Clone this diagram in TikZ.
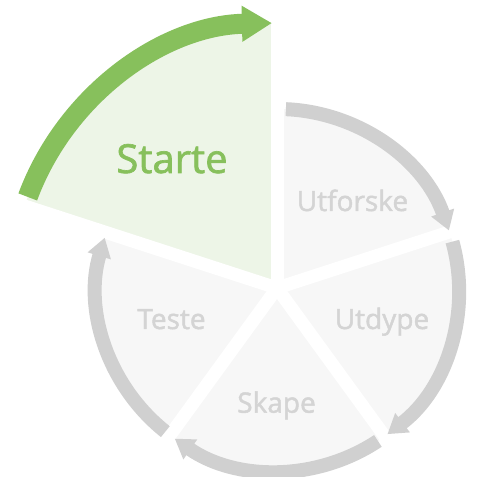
\documentclass[tikz,border=0pt]{standalone}
\usepackage{fontspec}
\setmainfont{Open Sans}
\newfontfamily\labelfont{Open Sans}[FakeBold=1.6]
\usetikzlibrary{arrows.meta}
\definecolor{grn}{RGB}{135,192,92}
\definecolor{grnfill}{RGB}{237,245,231}
\definecolor{gryarc}{RGB}{208,208,208}
\definecolor{gryfill}{RGB}{247,247,247}
\definecolor{grytext}{RGB}{212,212,212}
\begin{document}
\begin{tikzpicture}[x=1pt,y=1pt,
  grayarc/.style={draw=gryarc, line width=14pt, -{Triangle[length=19pt,width=23pt]}},
  greenarc/.style={draw=grn, line width=20pt, -{Triangle[length=30pt,width=34pt]}},
  gapline/.style={draw=white, line width=13pt},
  glabel/.style={text=grytext, font=\labelfont\fontsize{28}{30}\selectfont, anchor=base, inner sep=0pt},
  slabel/.style={text=grn, font=\labelfont\fontsize{40}{44}\selectfont, anchor=base, inner sep=0pt}]
\useasboundingbox (0,0) rectangle (477,477);
\coordinate (C) at (278,187);
\coordinate (P) at (277,189);
% sector fills
\fill[grnfill] (C) -- ([shift={(162:267)}]C) arc[start angle=162, end angle=90, radius=267] -- cycle;
\foreach \a in {90,18,-54,-126}
  \fill[gryfill] (C) -- ([shift={(\a:181)}]C) arc[start angle=\a, end angle=\a-72, radius=181] -- cycle;
% white gaps
\foreach \a/\n in {90/g1,18/g2,-54/g3,-126/g4,162/g5} {
  \coordinate (\n) at ([shift={(\a:290)}]P);
  \draw[gapline] (P) -- (\n);
}
% arrows
\draw[greenarc] ([shift={(159.6:267)}]C) arc[start angle=159.6, end angle=91.3, radius=267];
\draw[grayarc] ([shift={(87.5:181)}]C) arc[start angle=87.5, end angle=19.2, radius=181];
\draw[grayarc] ([shift={(15.5:181)}]C) arc[start angle=15.5, end angle=-52.8, radius=181];
\draw[grayarc] ([shift={(-56.5:181)}]C) arc[start angle=-56.5, end angle=-124.8, radius=181];
\draw[grayarc] ([shift={(-128.5:181)}]C) arc[start angle=-128.5, end angle=-196.8, radius=181];
% labels
\node[slabel] (starte) at (172,304) {Starte};
\node[glabel] (utforske) at (352.5,266) {Utforske};
\node[glabel] (utdype) at (382,148) {Utdype};
\node[glabel] (teste) at (171.5,148) {Teste};
\node[glabel] (skape) at (276.5,64.3) {Skape};
\end{tikzpicture}
\end{document}
